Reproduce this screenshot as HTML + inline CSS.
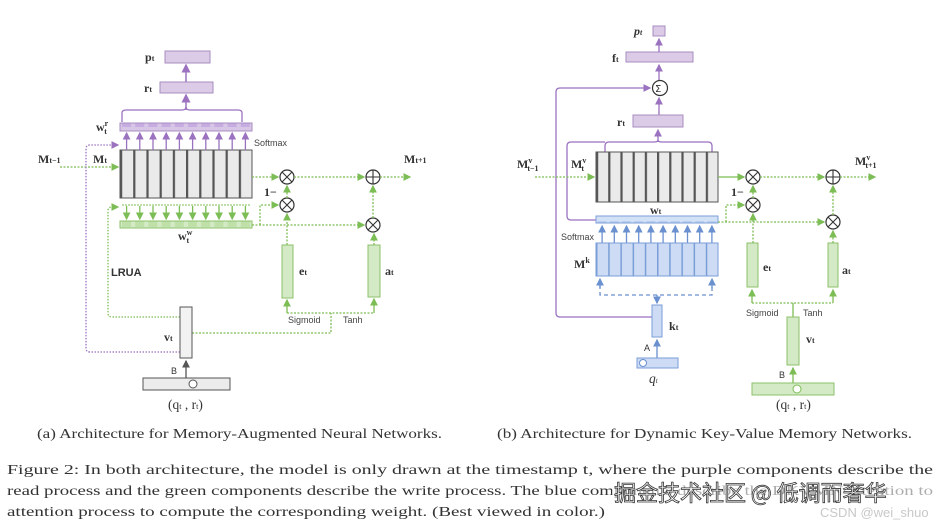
<!DOCTYPE html>
<html><head><meta charset="utf-8"><style>
html,body{margin:0;padding:0;background:#fff;}
svg{display:block}
.t{font-family:"Liberation Serif",serif;font-weight:bold;font-size:12px;fill:#333}
.s{font-family:"Liberation Sans",sans-serif;font-size:9px;fill:#444}
.cap{font-family:"Liberation Serif",serif;font-size:13.5px;fill:#333}
</style></head><body>
<svg width="944" height="525" viewBox="0 0 944 525" xmlns="http://www.w3.org/2000/svg">
<defs>
<pattern id="mem" x="120" y="0" width="13.2" height="10" patternUnits="userSpaceOnUse"><rect width="13.2" height="10" fill="#eaeaea"/><rect x="0" width="2.2" height="10" fill="#555"/></pattern>
<pattern id="memr" x="596" y="0" width="12.2" height="10" patternUnits="userSpaceOnUse"><rect width="12.2" height="10" fill="#eaeaea"/><rect x="0" width="2.2" height="10" fill="#555"/></pattern>
<pattern id="pc" x="120" y="0" width="13.2" height="10" patternUnits="userSpaceOnUse"><rect width="13.2" height="10" fill="#d8c6e6"/><rect x="2" y="1" width="9" height="6" fill="#c6ace0"/></pattern>
<pattern id="gc" x="120" y="0" width="13.2" height="10" patternUnits="userSpaceOnUse"><rect width="13.2" height="10" fill="#d4eac6"/><rect x="2" y="1" width="9" height="6" fill="#bfe0a8"/></pattern>
<pattern id="bc" x="596" y="0" width="12.2" height="10" patternUnits="userSpaceOnUse"><rect width="12.2" height="10" fill="#d2e1f6"/><rect x="1.5" y="1" width="9" height="5" fill="#b9cff0"/></pattern>
<pattern id="bk" x="596" y="0" width="12.2" height="10" patternUnits="userSpaceOnUse"><rect width="12.2" height="10" fill="#cddcf4"/><rect x="0" width="1.5" height="10" fill="#7a9ed8"/></pattern>
<marker id="ap" markerWidth="6" markerHeight="6" refX="5" refY="3" orient="auto"><path d="M0,0L6,3L0,6z" fill="#9b72c0"/></marker>
<marker id="ag" markerWidth="6" markerHeight="6" refX="5" refY="3" orient="auto"><path d="M0,0L6,3L0,6z" fill="#7cbd55"/></marker>
<marker id="ab" markerWidth="6" markerHeight="6" refX="5" refY="3" orient="auto"><path d="M0,0L6,3L0,6z" fill="#6a90d0"/></marker>
<marker id="ak" markerWidth="6" markerHeight="6" refX="5" refY="3" orient="auto"><path d="M0,0L6,3L0,6z" fill="#555"/></marker>
</defs>

<!-- ============ LEFT ============ -->
<rect x="165" y="51" width="45" height="12" fill="#dccbe6" stroke="#a78cc0"/>
<text class="t" x="145" y="61">p<tspan font-size="8">t</tspan></text>
<rect x="160" y="82" width="53" height="11" fill="#dccbe6" stroke="#a78cc0"/>
<text class="t" x="144" y="92">r<tspan font-size="8">t</tspan></text>
<line x1="186" y1="82" x2="186" y2="65" stroke="#9b72c0" stroke-width="1.5" marker-end="url(#ap)"/>
<line x1="186" y1="110" x2="186" y2="95" stroke="#9b72c0" stroke-width="1.5" marker-end="url(#ap)"/>
<path d="M122,122 V113 Q122,110 126,110 H182 Q186,110 186,107 Q186,110 190,110 H238 Q242,110 242,113 V122" fill="none" stroke="#9b72c0" stroke-width="1.3"/>
<rect x="120" y="123" width="132" height="8" fill="url(#pc)" stroke="#a78cc0"/>
<text class="t" x="96" y="131">w<tspan font-size="8" dy="-5">r</tspan><tspan font-size="8" dx="-4" dy="8">t</tspan></text>
<text class="s" x="254" y="146">Softmax</text>
<rect x="120" y="150" width="132" height="48" fill="url(#mem)" stroke="#555"/>
<g stroke="#9b72c0" stroke-width="1.3" marker-end="url(#ap)">
<line x1="126.6" y1="150" x2="126.6" y2="133"/><line x1="139.8" y1="150" x2="139.8" y2="133"/><line x1="153" y1="150" x2="153" y2="133"/><line x1="166.2" y1="150" x2="166.2" y2="133"/><line x1="179.4" y1="150" x2="179.4" y2="133"/><line x1="192.6" y1="150" x2="192.6" y2="133"/><line x1="205.8" y1="150" x2="205.8" y2="133"/><line x1="219" y1="150" x2="219" y2="133"/><line x1="232.2" y1="150" x2="232.2" y2="133"/><line x1="245.4" y1="150" x2="245.4" y2="133"/>
</g>
<rect x="120" y="221" width="132" height="7" fill="url(#gc)" stroke="#8cc06a"/>
<g stroke="#7cbd55" stroke-width="1.3" marker-end="url(#ag)">
<line x1="126.6" y1="206" x2="126.6" y2="219"/><line x1="139.8" y1="206" x2="139.8" y2="219"/><line x1="153" y1="206" x2="153" y2="219"/><line x1="166.2" y1="206" x2="166.2" y2="219"/><line x1="179.4" y1="206" x2="179.4" y2="219"/><line x1="192.6" y1="206" x2="192.6" y2="219"/><line x1="205.8" y1="206" x2="205.8" y2="219"/><line x1="219" y1="206" x2="219" y2="219"/><line x1="232.2" y1="206" x2="232.2" y2="219"/><line x1="245.4" y1="206" x2="245.4" y2="219"/>
</g>
<line x1="122" y1="205" x2="250" y2="205" stroke="#7cbd55" stroke-dasharray="2,1"/>
<text class="t" x="178" y="240">w<tspan font-size="8" dy="-5">w</tspan><tspan font-size="8" dx="-6" dy="8">t</tspan></text>
<text class="t" x="38" y="163">M<tspan font-size="8">t−1</tspan></text>
<text class="t" x="93" y="163">M<tspan font-size="8">t</tspan></text>
<line x1="60" y1="167" x2="118" y2="167" stroke="#7cbd55" stroke-width="1.3" stroke-dasharray="2,1.5" marker-end="url(#ag)"/>
<path d="M180,352 H90 Q86,352 86,348 V149 Q86,145 90,145 H118" fill="none" stroke="#9b72c0" stroke-width="1.3" stroke-dasharray="1.5,1.5" marker-end="url(#ap)"/>
<path d="M180,317 H112 Q108,317 108,313 V211 Q108,207 112,207 H118" fill="none" stroke="#7cbd55" stroke-width="1.3" stroke-dasharray="1.5,1.5" marker-end="url(#ag)"/>
<text x="111" y="276" font-family="Liberation Sans,sans-serif" font-weight="bold" font-size="11" fill="#333">LRUA</text>
<g fill="#fff" stroke="#333" stroke-width="1.2">
<circle cx="287" cy="177" r="7"/><circle cx="287" cy="205" r="7"/><circle cx="373" cy="177" r="7"/><circle cx="373" cy="225" r="7"/>
</g>
<g stroke="#333" stroke-width="1.1">
<path d="M282,172L292,182M292,172L282,182"/><path d="M282,200L292,210M292,200L282,210"/><path d="M366,177H380M373,170V184"/><path d="M368,220L378,230M378,220L368,230"/>
</g>
<g stroke="#7cbd55" stroke-width="1.3" fill="none" stroke-dasharray="2,1.5">
<line x1="252" y1="177" x2="278" y2="177" marker-end="url(#ag)"/>
<line x1="294" y1="177" x2="364" y2="177" marker-end="url(#ag)"/>
<line x1="380" y1="177" x2="410" y2="177" marker-end="url(#ag)"/>
<line x1="252" y1="225" x2="364" y2="225" marker-end="url(#ag)"/>
<path d="M260,225 V205 H278" marker-end="url(#ag)"/>
<line x1="287" y1="198" x2="287" y2="186" marker-end="url(#ag)"/>
<line x1="373" y1="218" x2="373" y2="186" marker-end="url(#ag)"/>
<line x1="287" y1="245" x2="287" y2="214" marker-end="url(#ag)"/>
<line x1="374" y1="245" x2="374" y2="234" marker-end="url(#ag)"/>
</g>
<text class="t" x="404" y="163">M<tspan font-size="8">t+1</tspan></text>
<text class="t" x="264" y="196" font-size="11">1−</text>
<rect x="282" y="245" width="11" height="53" fill="#d4eac6" stroke="#8cc06a"/>
<rect x="368" y="245" width="12" height="52" fill="#d4eac6" stroke="#8cc06a"/>
<text class="t" x="299" y="275">e<tspan font-size="8">t</tspan></text>
<text class="t" x="385" y="275">a<tspan font-size="8">t</tspan></text>
<path d="M287,313 V300" stroke="#7cbd55" stroke-width="1.3" marker-end="url(#ag)"/>
<path d="M374,313 V299" stroke="#7cbd55" stroke-width="1.3" marker-end="url(#ag)"/>
<line x1="287" y1="313" x2="374" y2="313" stroke="#7cbd55" stroke-width="1.3" stroke-dasharray="2,1.5"/>
<path d="M192,333 H331 V313" fill="none" stroke="#7cbd55" stroke-width="1.3" stroke-dasharray="2,1.5"/>
<text class="s" x="288" y="323">Sigmoid</text>
<text class="s" x="343" y="323">Tanh</text>
<rect x="180" y="307" width="12" height="51" fill="#f2f2f2" stroke="#555"/>
<text class="t" x="164" y="341">v<tspan font-size="8">t</tspan></text>
<line x1="186" y1="378" x2="186" y2="361" stroke="#555" stroke-width="1.3" marker-end="url(#ak)"/>
<text x="171" y="374" font-family="Liberation Sans,sans-serif" font-size="9" fill="#333">B</text>
<rect x="143" y="378" width="87" height="12" fill="#ececec" stroke="#555"/>
<circle cx="193" cy="384" r="4" fill="#fff" stroke="#555"/>
<text class="cap" x="168" y="409" font-size="12">(q<tspan font-size="8">t</tspan> , r<tspan font-size="8">t</tspan>)</text>

<!-- ============ RIGHT ============ -->
<rect x="653" y="26" width="12" height="10" fill="#dccbe6" stroke="#a78cc0"/>
<text class="t" x="634" y="35" font-style="italic" font-weight="normal">p<tspan font-size="8">t</tspan></text>
<rect x="626" y="52" width="67" height="10" fill="#dccbe6" stroke="#a78cc0"/>
<text class="t" x="612" y="62">f<tspan font-size="8">t</tspan></text>
<line x1="659" y1="52" x2="659" y2="39" stroke="#9b72c0" stroke-width="1.3" marker-end="url(#ap)"/>
<line x1="659" y1="80" x2="659" y2="65" stroke="#9b72c0" stroke-width="1.3" marker-end="url(#ap)"/>
<circle cx="660" cy="88" r="7.5" fill="#fff" stroke="#333" stroke-width="1.2"/>
<text x="655" y="92" font-family="DejaVu Sans,sans-serif" font-size="10" fill="#333">Σ</text>
<line x1="659" y1="115" x2="659" y2="98" stroke="#9b72c0" stroke-width="1.3" marker-end="url(#ap)"/>
<rect x="633" y="115" width="50" height="12" fill="#dccbe6" stroke="#a78cc0"/>
<text class="t" x="617" y="126">r<tspan font-size="8">t</tspan></text>
<line x1="658" y1="142" x2="658" y2="130" stroke="#9b72c0" stroke-width="1.3" marker-end="url(#ap)"/>
<path d="M605,152 V146 Q605,142 609,142 H654 Q658,142 658,140 Q658,142 662,142 H708 Q712,142 712,146 V152" fill="none" stroke="#9b72c0" stroke-width="1.3"/>
<path d="M596,220 H571 Q567,220 567,216 V146 Q567,142 571,142 H605" fill="none" stroke="#9b72c0" stroke-width="1.3"/>
<path d="M653,317 H560 Q556,317 556,313 V92 Q556,88 560,88 H650" fill="none" stroke="#9b72c0" stroke-width="1.3" marker-end="url(#ap)"/>
<rect x="596" y="152" width="122" height="50" fill="url(#memr)" stroke="#555"/>
<text class="t" x="517" y="168">M<tspan font-size="8" dy="-5">v</tspan><tspan font-size="8" dx="-5" dy="8">t−1</tspan></text>
<text class="t" x="571" y="168">M<tspan font-size="8" dy="-5">v</tspan><tspan font-size="8" dx="-5" dy="8">t</tspan></text>
<line x1="535" y1="177" x2="594" y2="177" stroke="#7cbd55" stroke-width="1.3" stroke-dasharray="2,1.5" marker-end="url(#ag)"/>
<text class="t" x="650" y="214">w<tspan font-size="8">t</tspan></text>
<rect x="596" y="216" width="122" height="7" fill="url(#bc)" stroke="#7a9ed8"/>
<text class="s" x="561" y="240">Softmax</text>
<g stroke="#6a90d0" stroke-width="1.3" marker-end="url(#ab)">
<line x1="602.1" y1="243" x2="602.1" y2="226"/><line x1="614.3" y1="243" x2="614.3" y2="226"/><line x1="626.5" y1="243" x2="626.5" y2="226"/><line x1="638.7" y1="243" x2="638.7" y2="226"/><line x1="650.9" y1="243" x2="650.9" y2="226"/><line x1="663.1" y1="243" x2="663.1" y2="226"/><line x1="675.3" y1="243" x2="675.3" y2="226"/><line x1="687.5" y1="243" x2="687.5" y2="226"/><line x1="699.7" y1="243" x2="699.7" y2="226"/><line x1="711.9" y1="243" x2="711.9" y2="226"/>
</g>
<rect x="596" y="243" width="122" height="33" fill="url(#bk)" stroke="#7a9ed8"/>
<text class="t" x="574" y="268">M<tspan font-size="8" dy="-5">k</tspan></text>
<path d="M600,285 V295 H712 V285" fill="none" stroke="#6a90d0" stroke-width="1.3" stroke-dasharray="4,3"/>
<line x1="600" y1="288" x2="600" y2="279" stroke="#6a90d0" stroke-width="1.3" marker-end="url(#ab)"/>
<line x1="712" y1="288" x2="712" y2="279" stroke="#6a90d0" stroke-width="1.3" marker-end="url(#ab)"/>
<line x1="657" y1="295" x2="657" y2="303" stroke="#6a90d0" stroke-width="1.3" marker-end="url(#ab)"/>
<rect x="652" y="305" width="10" height="32" fill="#cddcf4" stroke="#7a9ed8"/>
<text class="t" x="669" y="330">k<tspan font-size="8">t</tspan></text>
<line x1="657" y1="358" x2="657" y2="340" stroke="#6a90d0" stroke-width="1.3" marker-end="url(#ab)"/>
<text x="644" y="351" font-family="Liberation Sans,sans-serif" font-size="9" fill="#333">A</text>
<rect x="637" y="358" width="41" height="10" fill="#cddcf4" stroke="#7a9ed8"/>
<circle cx="643" cy="363" r="3.5" fill="#fff" stroke="#6a90d0"/>
<text class="cap" x="649" y="383" font-size="11" font-style="italic">q<tspan font-size="7">t</tspan></text>
<g fill="#fff" stroke="#333" stroke-width="1.2">
<circle cx="753" cy="177" r="7"/><circle cx="753" cy="205" r="7"/><circle cx="833" cy="177" r="7"/><circle cx="833" cy="222" r="7"/>
</g>
<g stroke="#333" stroke-width="1.1">
<path d="M748,172L758,182M758,172L748,182"/><path d="M748,200L758,210M758,200L748,210"/><path d="M826,177H840M833,170V184"/><path d="M828,217L838,227M838,217L828,227"/>
</g>
<g stroke="#7cbd55" stroke-width="1.3" fill="none" stroke-dasharray="2,1.5">
<line x1="718" y1="177" x2="744" y2="177" marker-end="url(#ag)" stroke-dasharray="none"/>
<line x1="760" y1="177" x2="824" y2="177" marker-end="url(#ag)"/>
<line x1="840" y1="177" x2="875" y2="177" marker-end="url(#ag)"/>
<line x1="718" y1="222" x2="824" y2="222" marker-end="url(#ag)"/>
<path d="M726,222 V205 H744" marker-end="url(#ag)"/>
<line x1="753" y1="198" x2="753" y2="186" marker-end="url(#ag)"/>
<line x1="833" y1="215" x2="833" y2="186" marker-end="url(#ag)"/>
<line x1="753" y1="243" x2="753" y2="214" marker-end="url(#ag)"/>
<line x1="833" y1="243" x2="833" y2="231" marker-end="url(#ag)"/>
</g>
<text class="t" x="855" y="165">M<tspan font-size="8" dy="-5">v</tspan><tspan font-size="8" dx="-5" dy="8">t+1</tspan></text>
<text class="t" x="731" y="196" font-size="11">1−</text>
<rect x="747" y="243" width="11" height="44" fill="#d4eac6" stroke="#8cc06a"/>
<rect x="828" y="243" width="10" height="44" fill="#d4eac6" stroke="#8cc06a"/>
<text class="t" x="763" y="271">e<tspan font-size="8">t</tspan></text>
<text class="t" x="842" y="274">a<tspan font-size="8">t</tspan></text>
<line x1="752" y1="303" x2="752" y2="290" stroke="#7cbd55" stroke-width="1.3" marker-end="url(#ag)"/>
<line x1="833" y1="303" x2="833" y2="290" stroke="#7cbd55" stroke-width="1.3" marker-end="url(#ag)"/>
<line x1="752" y1="303" x2="833" y2="303" stroke="#7cbd55" stroke-width="1.3" stroke-dasharray="2,1.5"/>
<line x1="793" y1="303" x2="793" y2="317" stroke="#7cbd55" stroke-width="1.3"/>
<text class="s" x="746" y="316">Sigmoid</text>
<text class="s" x="803" y="316">Tanh</text>
<rect x="787" y="317" width="12" height="48" fill="#d4eac6" stroke="#8cc06a"/>
<text class="t" x="806" y="343">v<tspan font-size="8">t</tspan></text>
<line x1="793" y1="383" x2="793" y2="368" stroke="#7cbd55" stroke-width="1.3" marker-end="url(#ag)"/>
<text x="779" y="378" font-family="Liberation Sans,sans-serif" font-size="9" fill="#333">B</text>
<rect x="752" y="383" width="82" height="12" fill="#d4eac6" stroke="#8cc06a"/>
<circle cx="797" cy="389" r="4" fill="#fff" stroke="#7cbd55"/>
<text class="cap" x="776" y="409" font-size="12">(q<tspan font-size="8">t</tspan> , r<tspan font-size="8">t</tspan>)</text>

<!-- captions -->
<text class="cap" x="37" y="438" font-size="13" textLength="405" lengthAdjust="spacingAndGlyphs">(a) Architecture for Memory-Augmented Neural Networks.</text>
<text class="cap" x="497" y="438" font-size="13" textLength="415" lengthAdjust="spacingAndGlyphs">(b) Architecture for Dynamic Key-Value Memory Networks.</text>
<text class="cap" x="7" y="474" textLength="926" lengthAdjust="spacingAndGlyphs">Figure 2: In both architecture, the model is only drawn at the timestamp t, where the purple components describe the</text>
<text class="cap" x="7" y="495" textLength="926" lengthAdjust="spacingAndGlyphs">read process and the green components describe the write process. The blue components describe the DKVMN attention to</text>
<text class="cap" x="7" y="516" textLength="598" lengthAdjust="spacingAndGlyphs">attention process to compute the corresponding weight. (Best viewed in color.)</text>
<rect x="612" y="480" width="322" height="26" fill="#fff" opacity="0.6"/>
<text x="614" y="501" font-family="Noto Sans CJK SC,sans-serif" font-size="22" fill="#fff" stroke="#333" stroke-width="0.8">掘金技术社区 @ 低调而奢华</text>
<text x="820" y="517" font-family="Liberation Sans,sans-serif" font-size="13" fill="#c8c8c8">CSDN @wei_shuo</text>
</svg>
</body></html>
